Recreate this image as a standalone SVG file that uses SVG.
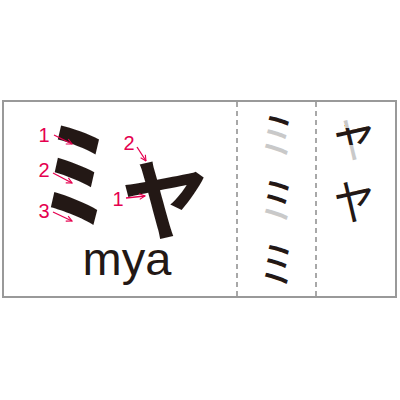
<svg xmlns="http://www.w3.org/2000/svg" width="400" height="400" viewBox="0 0 400 400">
<style>
.k{font-family:"Noto Sans CJK JP","Noto Sans CJK SC",sans-serif;text-anchor:middle}
.blk{fill:#231815}
.gry{fill:#c9c9c9}
.num{font-family:"Liberation Sans",Arial,sans-serif;font-size:20px;fill:#e5004f;text-anchor:middle}
.arr{stroke:#e5004f;stroke-width:1.3;fill:none;marker-end:url(#ah)}
.dash{stroke:#8c8c8c;stroke-width:1.5;stroke-dasharray:5 4}
</style>
<defs>
<marker id="ah" viewBox="0 0 10 10" refX="9" refY="5" markerWidth="7" markerHeight="7" orient="auto" markerUnits="userSpaceOnUse">
<path d="M1,1 L9,5 L1,9" fill="none" stroke="#e5004f" stroke-width="1.6"/>
</marker>
<linearGradient id="g1" gradientUnits="userSpaceOnUse" x1="0" y1="-28.5" x2="0" y2="-27.5">
<stop offset="0" stop-color="#231815"/><stop offset="1" stop-color="#c9c9c9"/>
</linearGradient>
<linearGradient id="g2" gradientUnits="userSpaceOnUse" x1="0" y1="-14.2" x2="0" y2="-13.2">
<stop offset="0" stop-color="#231815"/><stop offset="1" stop-color="#c9c9c9"/>
</linearGradient>
<clipPath id="c3" clipPathUnits="userSpaceOnUse"><polygon points="325,125 345,125 345,128 356,128 356,120 385,115 385,150 356,150 356,145 345,145 345,150 325,150"/></clipPath>
</defs>
<rect x="3" y="101" width="393" height="196" fill="#fff" stroke="#999" stroke-width="2"/>
<g id="dividers">
<line class="dash" x1="237" y1="102" x2="237" y2="296"/>
<line class="dash" x1="316" y1="102" x2="316" y2="296"/>
</g>
<g id="main-kana">
<text class="k blk" font-size="120" font-weight="700" transform="translate(76,220) scale(0.58,1)">ミ</text>
<text class="k blk" font-size="88" font-weight="700" x="165" y="233">ヤ</text>
</g>
<g id="romaji">
<text x="127" y="275" font-family="Liberation Sans,Arial,sans-serif" font-size="47" fill="#231815" text-anchor="middle">mya</text>
</g>
<g id="stroke-numbers">
<text class="num" x="44" y="142">1</text>
<text class="num" x="44" y="177">2</text>
<text class="num" x="44" y="218">3</text>
<text class="num" x="129" y="150">2</text>
<text class="num" x="118" y="206">1</text>
</g>
<g id="connectors">
<line class="arr" x1="54" y1="135" x2="72" y2="144"/>
<line class="arr" x1="53" y1="173" x2="72" y2="183"/>
<line class="arr" x1="53" y1="212" x2="72" y2="221"/>
<line class="arr" x1="137" y1="147" x2="146" y2="161"/>
<line class="arr" x1="126" y1="198" x2="145" y2="196"/>
</g>
<g id="order-mi">
<text class="k" font-size="50" fill="url(#g1)" transform="translate(277.5,154) scale(0.73,1)">ミ</text>
<text class="k" font-size="50" fill="url(#g2)" transform="translate(277.5,218.7) scale(0.73,1)">ミ</text>
<text class="k blk" font-size="50" transform="translate(277.5,282.8) scale(0.73,1)">ミ</text>
</g>
<g id="order-ya">
<text class="k gry" font-size="48" transform="translate(354,157.7) scale(0.85,1)">ヤ</text>
<g clip-path="url(#c3)"><text class="k blk" font-size="48" transform="translate(354,157.7) scale(0.85,1)">ヤ</text></g>
<text class="k blk" font-size="48" transform="translate(354,220.2) scale(0.85,1)">ヤ</text>
</g>
</svg>
